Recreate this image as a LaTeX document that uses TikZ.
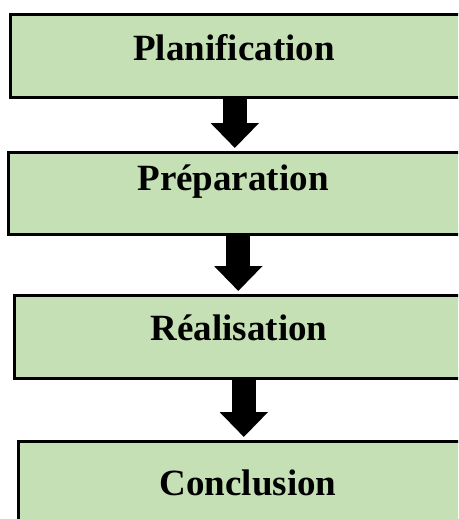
\documentclass[tikz,border=0pt]{standalone}
\usepackage{fontspec}
\setmainfont{Liberation Serif}
\usetikzlibrary{arrows.meta}

\begin{document}
\begin{tikzpicture}[x=1pt,y=1pt,
	etape/.style={rectangle,draw=black,line width=2.6pt,fill=vertclair,anchor=north west,inner sep=0pt},
	titre/.style={anchor=base,inner sep=0pt,font=\fontsize{37}{40}\selectfont\bfseries},
	fleche/.style={line width=24pt,-{Triangle[width=47pt,length=25pt]},shorten >=3pt}]
\definecolor{vertclair}{HTML}{C5E0B4}
\useasboundingbox (0,0) rectangle (458,-519);
\clip (0,0) rectangle (458,-519);

\node[etape,minimum width=461pt,minimum height=83pt]   (plan) at (9,-13)   {};
\node[etape,minimum width=463pt,minimum height=82pt]   (prep) at (7,-151)  {};
\node[etape,minimum width=457pt,minimum height=83pt]   (real) at (13,-294) {};
\node[etape,minimum width=453pt,minimum height=100pt]  (conc) at (17,-440) {};

\node[titre]   (planT) at (234,-60)   {Planification};
\node[titre]   (prepT) at (233,-190)  {Préparation};
\node[titre]   (realT) at (239,-340)  {Réalisation};
\node[titre]   (concT) at (248,-495)  {Conclusion};

	\path[fleche] ([xshift=-6pt]plan.south)  edge  ([xshift=-6pt]plan.south |- prep.north)
				([xshift=-1.5pt]prep.south)  edge  ([xshift=-1.5pt]prep.south |- real.north)
				([xshift=1pt]real.south)  edge  ([xshift=1pt]real.south |- conc.north);

\end{tikzpicture}
\end{document}
